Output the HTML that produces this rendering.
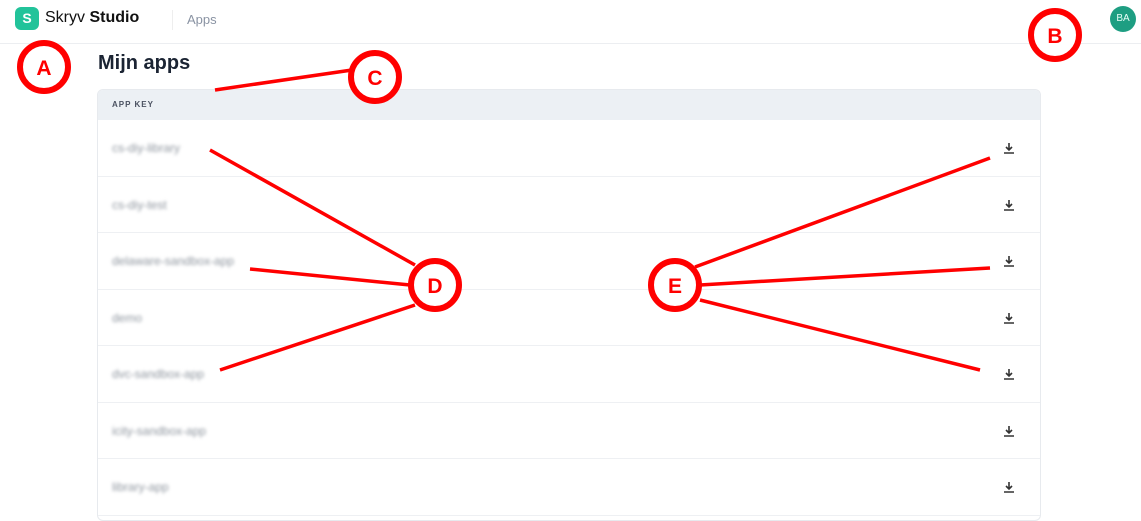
<!DOCTYPE html>
<html><head><meta charset="utf-8"><style>
body{margin:0;width:1141px;height:510px;overflow:hidden;background:#fff;font-family:"Liberation Sans",sans-serif;position:relative}
.top{position:absolute;left:0;top:0;width:1141px;height:43px;border-bottom:1px solid #eceef1}
.logo{position:absolute;left:15px;top:7px;width:24px;height:23px;background:#22c39a;border-radius:6px;color:#fff;font-weight:bold;font-size:14px;text-align:center;line-height:23px}
.brand{position:absolute;left:45px;top:9px;font-size:16px;color:#111}
.sep{position:absolute;left:172px;top:10px;width:1px;height:20px;background:#eee}
.apps{position:absolute;left:187px;top:12px;font-size:13px;color:#8a93a3}
.av{position:absolute;left:1110px;top:6px;width:26px;height:26px;border-radius:50%;background:#1e9e82;color:#e8fff8;font-size:10px;text-align:center;line-height:26px}
h1{position:absolute;left:98px;top:52px;margin:0;font-size:20px;color:#1b2433}
.tbl{position:absolute;left:97px;top:89px;width:942px;height:430px;border:1px solid #e7eaee;border-radius:6px;overflow:hidden}
.hd{height:30px;background:#ecf0f4;font-size:8px;font-weight:bold;letter-spacing:1px;color:#4a5160;line-height:30px;padding-left:14px}
.row{height:55.5px;border-bottom:1px solid #eef0f3;position:relative}
.row span{position:absolute;left:14px;top:21px;font-size:12px;color:#8f969f;filter:blur(1.5px)}
.row svg{position:absolute;left:905px;top:22px}
</style></head><body>
<div class="top"></div>
<div class="logo">S</div>
<div class="brand">Skryv <b>Studio</b></div>
<div class="sep"></div>
<div class="apps">Apps</div>
<div class="av">BA</div>
<h1>Mijn apps</h1>
<div class="tbl"><div class="hd">APP KEY</div>
<div class="row"><span>cs-diy-library</span><svg width="12" height="12"><path d="M6 1V8M3 5L6 8L9 5M1 11H11" stroke="#333" stroke-width="1.6" fill="none"/></svg></div>
<div class="row"><span>cs-diy-test</span><svg width="12" height="12"><path d="M6 1V8M3 5L6 8L9 5M1 11H11" stroke="#333" stroke-width="1.6" fill="none"/></svg></div>
<div class="row"><span>delaware-sandbox-app</span><svg width="12" height="12"><path d="M6 1V8M3 5L6 8L9 5M1 11H11" stroke="#333" stroke-width="1.6" fill="none"/></svg></div>
<div class="row"><span>demo</span><svg width="12" height="12"><path d="M6 1V8M3 5L6 8L9 5M1 11H11" stroke="#333" stroke-width="1.6" fill="none"/></svg></div>
<div class="row"><span>dvc-sandbox-app</span><svg width="12" height="12"><path d="M6 1V8M3 5L6 8L9 5M1 11H11" stroke="#333" stroke-width="1.6" fill="none"/></svg></div>
<div class="row"><span>icity-sandbox-app</span><svg width="12" height="12"><path d="M6 1V8M3 5L6 8L9 5M1 11H11" stroke="#333" stroke-width="1.6" fill="none"/></svg></div>
<div class="row"><span>library-app</span><svg width="12" height="12"><path d="M6 1V8M3 5L6 8L9 5M1 11H11" stroke="#333" stroke-width="1.6" fill="none"/></svg></div>
</div>
<svg width="1141" height="510" style="position:absolute;left:0;top:0">
<g stroke="#f00" stroke-width="3.5" fill="none">
<line x1="215" y1="90" x2="352" y2="70"/>
<line x1="210" y1="150" x2="415" y2="265"/>
<line x1="250" y1="269" x2="410" y2="285"/>
<line x1="220" y1="370" x2="415" y2="305"/>
<line x1="695" y1="267" x2="990" y2="158"/>
<line x1="700" y1="285" x2="990" y2="268"/>
<line x1="700" y1="300" x2="980" y2="370"/>
</g>
<g stroke="#f00" stroke-width="6" fill="#fff">
<circle cx="44" cy="67" r="24"/><circle cx="1055" cy="35" r="24"/>
<circle cx="375" cy="77" r="24"/><circle cx="435" cy="285" r="24"/><circle cx="675" cy="285" r="24"/>
</g>
<g fill="#f00" font-family="Liberation Sans" font-weight="bold" font-size="21" text-anchor="middle">
<text x="44" y="75">A</text><text x="1055" y="43">B</text><text x="375" y="85">C</text>
<text x="435" y="293">D</text><text x="675" y="293">E</text></g>
</svg>
</body></html>
